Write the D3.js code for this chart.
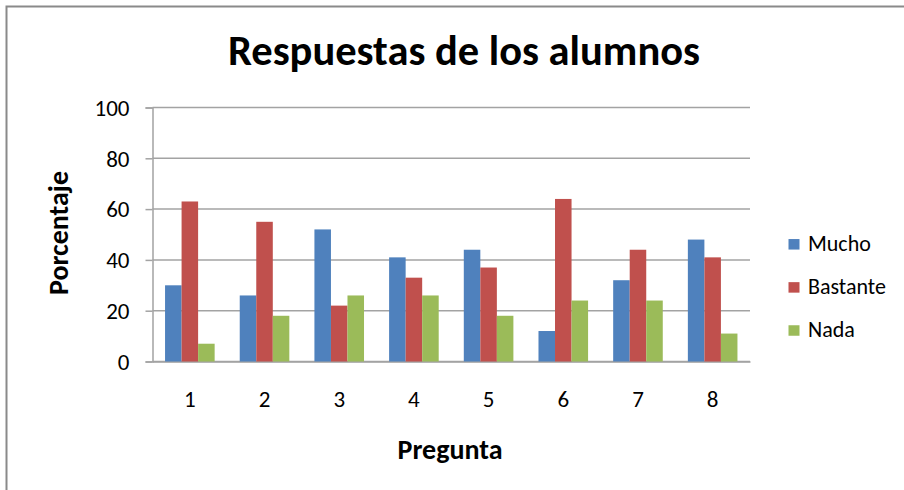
<!DOCTYPE html>
<html>
<head>
<meta charset="utf-8">
<script src="https://cdn.jsdelivr.net/npm/d3@7/dist/d3.min.js"></script>
<style>
  html, body { margin: 0; padding: 0; background: #fff; }
  svg { display: block; }
  text { font-family: Carlito, "Liberation Sans", Arial, sans-serif; fill: #000; }
</style>
</head>
<body>
<svg id="chart" width="904" height="490"></svg>
<script>
const title = "Respuestas de los alumnos";
const xTitle = "Pregunta";
const yTitle = "Porcentaje";
const categories = ["1", "2", "3", "4", "5", "6", "7", "8"];
const seriesNames = ["Mucho", "Bastante", "Nada"];
const mucho    = [30, 26, 52, 41, 44, 12, 32, 48];
const bastante = [63, 55, 22, 33, 37, 64, 44, 41];
const nada     = [7, 18, 26, 26, 18, 24, 24, 11];
const colors = ["#4F81BD", "#C0504D", "#9BBB59"];
const yTicks = [0, 20, 40, 60, 80, 100];

const seriesValues = [mucho, bastante, nada];
const data = categories.map((c, i) => ({
  cat: c,
  vals: seriesNames.map((s, j) => ({ key: s, value: seriesValues[j][i], color: colors[j] }))
}));

const FONT = 'Carlito, "Liberation Sans", Arial, sans-serif';
const svg = d3.select("#chart");
const plot = { left: 152.5, right: 750, top: 107.5, bottom: 361.5 };

// frame (left and top edges visible)
svg.append("path")
  .attr("d", "M6.5,490 L6.5,6.5 L904,6.5")
  .attr("fill", "none").attr("stroke", "#8a8a8a").attr("stroke-width", 2);

const x = d3.scaleBand().domain(categories)
  .range([plot.left, plot.right]).paddingInner(0.336).paddingOuter(0.168);
const xs = d3.scaleBand().domain(seriesNames).range([0, x.bandwidth()]);
const y = d3.scaleLinear().domain([0, 100]).range([plot.bottom, plot.top]);

// gridlines
svg.append("g").selectAll("line").data(yTicks).join("line")
  .attr("x1", plot.left).attr("x2", plot.right)
  .attr("y1", d => y(d)).attr("y2", d => y(d))
  .attr("stroke", "#a3a3a3").attr("stroke-width", 1.5);

// y axis
const yAxis = svg.append("g").attr("transform", `translate(${plot.left},0)`)
  .call(d3.axisLeft(y).tickValues(yTicks).tickSize(7).tickPadding(16));
yAxis.select(".domain").attr("stroke", "#a3a3a3").attr("stroke-width", 1.5);
yAxis.selectAll(".tick line").attr("stroke", "#a3a3a3").attr("stroke-width", 1.5);
yAxis.selectAll(".tick text").attr("font-size", 23).attr("fill", "#222")
  .attr("dy", "0.34em").style("font-family", FONT);

// x axis
const xAxis = svg.append("g").attr("transform", `translate(0,${plot.bottom})`)
  .call(d3.axisBottom(x).tickSize(0));
xAxis.select(".domain").attr("stroke", "#a3a3a3").attr("stroke-width", 1.5);
xAxis.selectAll(".tick text").attr("font-size", 23).attr("fill", "#222")
  .attr("y", 407 - plot.bottom).attr("dy", null).style("font-family", FONT);

// bars
svg.append("g").selectAll("g").data(data).join("g")
  .attr("transform", d => `translate(${x(d.cat)},0)`)
  .selectAll("rect").data(d => d.vals).join("rect")
  .attr("x", d => xs(d.key))
  .attr("width", xs.bandwidth())
  .attr("y", d => y(d.value))
  .attr("height", d => y(0) - y(d.value))
  .attr("fill", d => d.color);

// title
svg.append("text").attr("x", 464).attr("y", 64.5)
  .attr("text-anchor", "middle").attr("font-size", 42.5).attr("font-weight", "bold")
  .text(title);

// axis titles
svg.append("text").attr("x", 450).attr("y", 459)
  .attr("text-anchor", "middle").attr("font-size", 28).attr("font-weight", "bold")
  .text(xTitle);
svg.append("text").attr("transform", "translate(68,233) rotate(-90)")
  .attr("text-anchor", "middle").attr("font-size", 28).attr("font-weight", "bold")
  .text(yTitle);

// legend
const legend = svg.append("g").selectAll("g").data(seriesNames).join("g")
  .attr("transform", (d, i) => `translate(788.5,${244.3 + i * 43.1})`);
legend.append("rect").attr("x", 0).attr("y", -5.25).attr("width", 11).attr("height", 10.5)
  .attr("fill", (d, i) => colors[i]);
legend.append("text").attr("x", 19.5).attr("y", 6.5)
  .attr("font-size", 22).attr("fill", "#222").text(d => d);
</script>
</body>
</html>
